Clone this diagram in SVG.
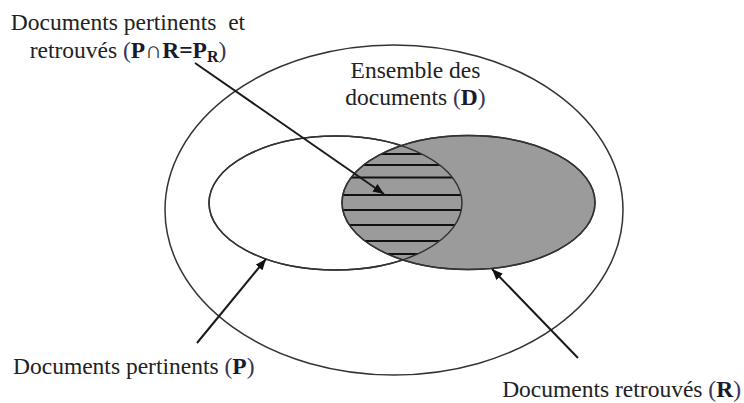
<svg xmlns="http://www.w3.org/2000/svg" width="744" height="403" viewBox="0 0 744 403">
<style>
text{font-family:'Liberation Serif','Times New Roman',Tinos,'DejaVu Serif',serif;font-size:23.5px;fill:#222}
.b{font-weight:bold;fill:#1a1a2e}
.p{fill:#3a3258}
.ell{stroke:#333;stroke-width:1.5}
.hatch{stroke:#111;stroke-width:1.8}
.arr{stroke:#1a1a1a;stroke-width:2;fill:none}
</style>
<defs>
<marker id="ah" markerUnits="userSpaceOnUse" markerWidth="12" markerHeight="10" refX="11" refY="4.5" orient="auto">
<path d="M0,0 L11,4.5 L0,9 z" fill="#111"/>
</marker>
<clipPath id="clipP">
<ellipse cx="335.5" cy="203" rx="126.5" ry="67"/>
</clipPath>
<clipPath id="clipR">
<ellipse cx="468.5" cy="202.5" rx="126.5" ry="67"/>
</clipPath>
</defs>
<rect width="744" height="403" fill="#fff"/>
<g id="D">
<ellipse class="ell" cx="394" cy="210" rx="229" ry="165" fill="none"/>
<text font-family="Liberation Serif, serif" x="415.5" y="78" text-anchor="middle">Ensemble des</text>
<text font-family="Liberation Serif, serif" x="415.5" y="105" text-anchor="middle">documents <tspan class="p">(</tspan><tspan class="b">D</tspan><tspan class="p">)</tspan></text>
</g>
<g id="P">
<ellipse class="ell" cx="335.5" cy="203" rx="126.5" ry="67" fill="#fff"/>
</g>
<g id="R">
<ellipse class="ell" cx="468.5" cy="202.5" rx="126.5" ry="67" fill="#9b9b9b"/>
</g>
<g id="PR">
<g clip-path="url(#clipP)">
<g clip-path="url(#clipR)">
<g class="hatch">
<line x1="330" y1="154" x2="470" y2="154"/>
<line x1="330" y1="165" x2="470" y2="165"/>
<line x1="330" y1="177.5" x2="470" y2="177.5"/>
<line x1="330" y1="195" x2="470" y2="195"/>
<line x1="330" y1="210" x2="470" y2="210"/>
<line x1="330" y1="225" x2="470" y2="225"/>
<line x1="330" y1="241" x2="470" y2="241"/>
<line x1="330" y1="254" x2="470" y2="254"/>
</g>
</g>
</g>
<ellipse class="ell" cx="335.5" cy="203" rx="126.5" ry="67" fill="none"/>
<ellipse class="ell" cx="468.5" cy="202.5" rx="126.5" ry="67" fill="none"/>
</g>
<g id="label-PR">
<text font-family="Liberation Serif, serif" x="128" y="30" text-anchor="middle" xml:space="preserve">Documents pertinents  et</text>
<text font-family="Liberation Serif, serif" x="128" y="58" text-anchor="middle">retrouvés <tspan class="p">(</tspan><tspan class="b">P</tspan>∩<tspan class="b">R=P</tspan><tspan class="b" font-size="16" dy="4">R</tspan><tspan class="p" dy="-4">)</tspan></text>
</g>
<g id="label-P">
<text font-family="Liberation Serif, serif" x="13" y="374">Documents pertinents <tspan class="p">(</tspan><tspan class="b">P</tspan><tspan class="p">)</tspan></text>
</g>
<g id="label-R">
<text font-family="Liberation Serif, serif" x="741" y="397" text-anchor="end">Documents retrouvés <tspan class="p">(</tspan><tspan class="b">R</tspan><tspan class="p">)</tspan></text>
</g>
<g id="connectors">
<line class="arr" x1="195" y1="63" x2="384" y2="194" marker-end="url(#ah)"/>
<line class="arr" x1="197" y1="343" x2="266" y2="259" marker-end="url(#ah)"/>
<line class="arr" x1="578" y1="358" x2="492" y2="269" marker-end="url(#ah)"/>
</g>
</svg>
